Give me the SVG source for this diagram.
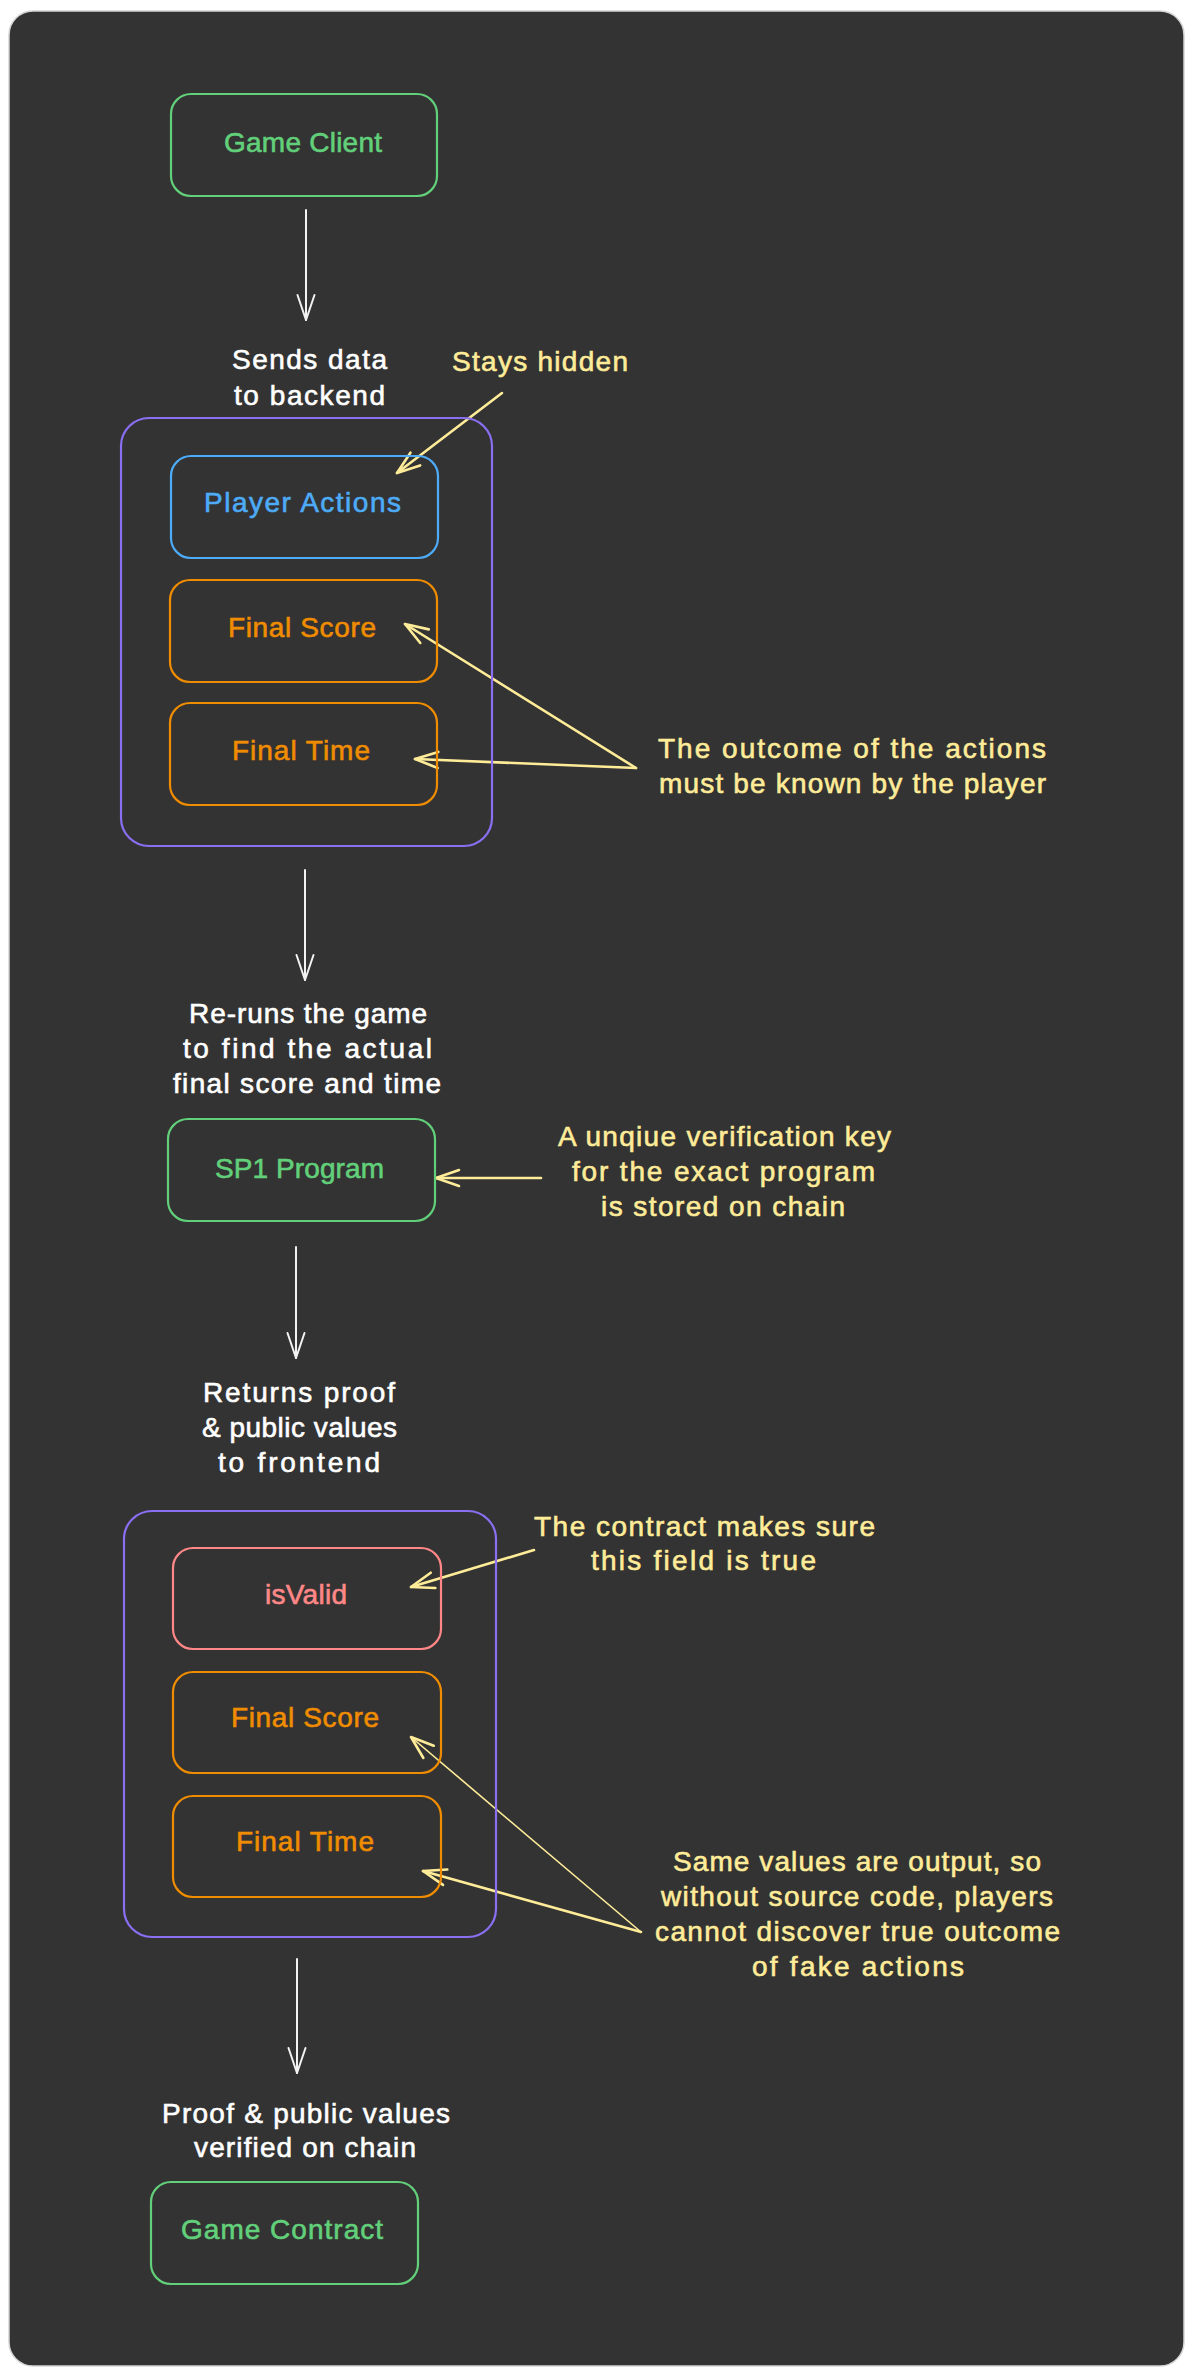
<svg xmlns="http://www.w3.org/2000/svg" width="1194" height="2378" viewBox="0 0 1194 2378">
<style>
text{font-family:"Liberation Sans",Arial,sans-serif;font-size:28px;stroke-width:0.6px}
.w{fill:#ffffff;stroke:#ffffff}
.y{fill:#ffec99;stroke:#ffec99}
.g{fill:#62d07a;stroke:#62d07a}
.b{fill:#4dabf7;stroke:#4dabf7}
.o{fill:#f08c00;stroke:#f08c00}
.r{fill:#ff8787;stroke:#ff8787}
.box{fill:none;stroke-width:2.2}
.gs{stroke:#62d07a}
.bs{stroke:#4dabf7}
.os{stroke:#f08c00}
.rs{stroke:#ff8787}
.ps{stroke:#8a6ff2}
.wa{fill:none;stroke:#f2f2f2;stroke-width:2;stroke-linecap:round}
.ya{fill:none;stroke:#ffec99;stroke-width:2.6;stroke-linecap:round}
.yt{fill:none;stroke:#ffec99;stroke-width:1.6;stroke-linecap:round}
</style>
<defs>
<marker id="mw" markerUnits="userSpaceOnUse" viewBox="-30 -15 35 30" markerWidth="35" markerHeight="30" refX="0" refY="0" orient="auto" overflow="visible">
<path d="M-25,-8.5 L0,0 L-25,8.5" fill="none" stroke="#f2f2f2" stroke-width="2" stroke-linecap="round" stroke-linejoin="round"/>
</marker>
<marker id="my" markerUnits="userSpaceOnUse" viewBox="-30 -15 35 30" markerWidth="35" markerHeight="30" refX="0" refY="0" orient="auto" overflow="visible">
<path d="M-23,-8 L0,0 L-23,8" fill="none" stroke="#ffec99" stroke-width="2.6" stroke-linecap="round" stroke-linejoin="round"/>
</marker>
</defs>
<rect x="0" y="0" width="1194" height="2378" fill="#ffffff"/>
<rect x="9" y="11" width="1175" height="2355" rx="24" fill="#333333" stroke="#d4d4d4" stroke-width="1.5"/>

<g id="connectors">
<path class="wa" d="M306,210 L306,320" marker-end="url(#mw)"/>
<path class="wa" d="M305,870 L305,980" marker-end="url(#mw)"/>
<path class="wa" d="M296,1247 L296,1358" marker-end="url(#mw)"/>
<path class="wa" d="M297,1959 L297,2073" marker-end="url(#mw)"/>
<path class="ya" d="M502,393 L397,473" marker-end="url(#my)"/>
<path class="ya" d="M636,768 L405,624" marker-end="url(#my)"/>
<path class="ya" d="M636,768 L415,759" marker-end="url(#my)"/>
<path class="ya" d="M541,1178 L436,1178" marker-end="url(#my)"/>
<path class="ya" d="M534,1550 L411,1587" marker-end="url(#my)"/>
<path class="yt" d="M641,1932 L411,1737" marker-end="url(#my)"/>
<path class="ya" d="M641,1932 L423,1871" marker-end="url(#my)"/>
</g>

<g id="game-client">
<rect class="box gs" x="171" y="94" width="266" height="102" rx="20"/>
<text class="g" x="224" y="152" textLength="158" lengthAdjust="spacing">Game Client</text>
</g>

<g id="label-sends">
<text class="w" x="232" y="369" textLength="155" lengthAdjust="spacing">Sends data</text>
<text class="w" x="234" y="405" textLength="151" lengthAdjust="spacing">to backend</text>
</g>

<g id="note-hidden">
<text class="y" x="452" y="371" textLength="176" lengthAdjust="spacing">Stays hidden</text>
</g>

<g id="backend-group">
<rect class="box ps" x="121" y="418" width="371" height="428" rx="28"/>
</g>
<g id="player-actions">
<rect class="box bs" x="171" y="456" width="267" height="102" rx="20"/>
<text class="b" x="204" y="512" textLength="197" lengthAdjust="spacing">Player Actions</text>
</g>
<g id="final-score-1">
<rect class="box os" x="170" y="580" width="267" height="102" rx="20"/>
<text class="o" x="228" y="637" textLength="148" lengthAdjust="spacing">Final Score</text>
</g>
<g id="final-time-1">
<rect class="box os" x="170" y="703" width="267" height="102" rx="20"/>
<text class="o" x="232" y="760" textLength="138" lengthAdjust="spacing">Final Time</text>
</g>

<g id="note-outcome">
<text class="y" x="658" y="758" textLength="388" lengthAdjust="spacing">The outcome of the actions</text>
<text class="y" x="659" y="793" textLength="387" lengthAdjust="spacing">must be known by the player</text>
</g>

<g id="label-reruns">
<text class="w" x="189" y="1023" textLength="238" lengthAdjust="spacing">Re-runs the game</text>
<text class="w" x="183" y="1058" textLength="249" lengthAdjust="spacing">to find the actual</text>
<text class="w" x="173" y="1093" textLength="268" lengthAdjust="spacing">final score and time</text>
</g>

<g id="sp1-program">
<rect class="box gs" x="168" y="1119" width="267" height="102" rx="20"/>
<text class="g" x="215" y="1178" textLength="169" lengthAdjust="spacing">SP1 Program</text>
</g>

<g id="note-vkey">
<text class="y" x="558" y="1146" textLength="333" lengthAdjust="spacing">A unqiue verification key</text>
<text class="y" x="572" y="1181" textLength="303" lengthAdjust="spacing">for the exact program</text>
<text class="y" x="601" y="1216" textLength="244" lengthAdjust="spacing">is stored on chain</text>
</g>

<g id="label-returns">
<text class="w" x="203" y="1402" textLength="192" lengthAdjust="spacing">Returns proof</text>
<text class="w" x="202" y="1437" textLength="195" lengthAdjust="spacing">&amp; public values</text>
<text class="w" x="218" y="1472" textLength="162" lengthAdjust="spacing">to frontend</text>
</g>

<g id="frontend-group">
<rect class="box ps" x="124" y="1511" width="372" height="426" rx="28"/>
</g>
<g id="is-valid">
<rect class="box rs" x="173" y="1548" width="268" height="101" rx="20"/>
<text class="r" x="265" y="1604" textLength="82" lengthAdjust="spacing">isValid</text>
</g>
<g id="final-score-2">
<rect class="box os" x="173" y="1672" width="268" height="101" rx="20"/>
<text class="o" x="231" y="1727" textLength="148" lengthAdjust="spacing">Final Score</text>
</g>
<g id="final-time-2">
<rect class="box os" x="173" y="1796" width="268" height="101" rx="20"/>
<text class="o" x="236" y="1851" textLength="138" lengthAdjust="spacing">Final Time</text>
</g>

<g id="note-contract">
<text class="y" x="534" y="1536" textLength="341" lengthAdjust="spacing">The contract makes sure</text>
<text class="y" x="591" y="1570" textLength="225" lengthAdjust="spacing">this field is true</text>
</g>

<g id="note-same">
<text class="y" x="673" y="1871" textLength="368" lengthAdjust="spacing">Same values are output, so</text>
<text class="y" x="661" y="1906" textLength="392" lengthAdjust="spacing">without source code, players</text>
<text class="y" x="655" y="1941" textLength="405" lengthAdjust="spacing">cannot discover true outcome</text>
<text class="y" x="752" y="1976" textLength="212" lengthAdjust="spacing">of fake actions</text>
</g>

<g id="label-verified">
<text class="w" x="162" y="2123" textLength="288" lengthAdjust="spacing">Proof &amp; public values</text>
<text class="w" x="194" y="2157" textLength="222" lengthAdjust="spacing">verified on chain</text>
</g>

<g id="game-contract">
<rect class="box gs" x="151" y="2182" width="267" height="102" rx="20"/>
<text class="g" x="181" y="2239" textLength="202" lengthAdjust="spacing">Game Contract</text>
</g>
</svg>
